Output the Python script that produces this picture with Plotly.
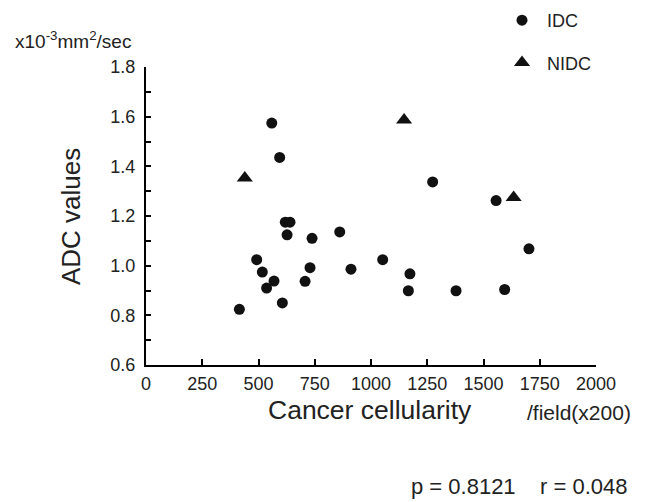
import plotly.graph_objects as go

# IDC data (cancer cellularity /field(x200), ADC x10^-3 mm^2/sec)
idc_x = [559, 594, 619, 640, 627, 738, 861, 492, 517, 569, 536, 415, 606, 707, 729, 911,
         1052, 1274, 1556, 1702, 1173, 1166, 1378, 1594]
idc_y = [1.574, 1.436, 1.175, 1.175, 1.124, 1.110, 1.136, 1.024, 0.974, 0.938, 0.910, 0.824,
         0.850, 0.937, 0.992, 0.986, 1.024, 1.337, 1.262, 1.068, 0.967, 0.899, 0.899, 0.904]

# NIDC data
nidc_x = [439, 1147, 1634]
nidc_y = [1.353, 1.587, 1.275]

x_ticks = [0, 250, 500, 750, 1000, 1250, 1500, 1750, 2000]
y_ticks = [0.6, 0.8, 1.0, 1.2, 1.4, 1.6, 1.8]

FONT = "Liberation Sans, Arial, sans-serif"
INK = "#111111"
TXT = "#222222"

# plot area in pixels
L, T, R, B = 146, 67, 596, 365
W, H = 660, 502
PW, PH = R - L, B - T


def px(x):
    return (x - L) / PW


def py(y):
    return (B - y) / PH


fig = go.Figure()
fig.add_trace(go.Scatter(x=idc_x, y=idc_y, mode="markers", name="\u00a0IDC", legendgroup="a",
                         marker=dict(symbol="circle", size=11, color=INK), cliponaxis=False))
fig.add_trace(go.Scatter(x=nidc_x, y=nidc_y, mode="markers", name="\u00a0NIDC", legendgroup="b",
                         marker=dict(symbol="triangle-up", size=14, color=INK), cliponaxis=False))

fig.update_layout(
    width=W, height=H,
    margin=dict(l=L, r=W - R, t=T, b=H - B, autoexpand=False),
    paper_bgcolor="white", plot_bgcolor="white",
    font=dict(family=FONT, color=TXT),
    showlegend=True,
    legend=dict(x=px(502), y=py(2), xanchor="left", yanchor="top",
                font=dict(size=18, family=FONT, color=TXT),
                tracegroupgap=16, bgcolor="rgba(0,0,0,0)"),
    xaxis=dict(range=[0, 2000], tickvals=x_ticks, ticktext=[str(v) for v in x_ticks],
               showgrid=False, zeroline=False, showline=True, linecolor="black", linewidth=2,
               ticks="inside", ticklen=6, tickwidth=1.5, tickcolor="black",
               ticklabelstandoff=1, automargin=False,
               tickfont=dict(size=18, family=FONT, color=TXT)),
    yaxis=dict(range=[0.6, 1.8], tickvals=y_ticks, ticktext=["%.1f" % v for v in y_ticks],
               showgrid=False, zeroline=False, showline=True, linecolor="black", linewidth=2,
               ticks="inside", ticklen=5, tickwidth=1.5, tickcolor="black",
               ticklabelstandoff=5, automargin=False,
               minor=dict(dtick=0.1, tick0=0.6, ticks="inside", ticklen=5, tickwidth=1.5,
                          tickcolor="black", showgrid=False),
               tickfont=dict(size=18, family=FONT, color=TXT)),
)

ann = [
    dict(text="x10<sup>-3</sup>mm<sup>2</sup>/sec", x=px(13), y=py(40), xanchor="left",
         yanchor="middle", font=dict(size=19)),
    dict(text="ADC values", x=px(71), y=py(217), textangle=-90, xanchor="center",
         yanchor="middle", font=dict(size=26)),
    dict(text="Cancer cellularity", x=px(370), y=py(410), xanchor="center", yanchor="middle",
         font=dict(size=26.5)),
    dict(text="/field(x200)", x=px(633), y=py(412), xanchor="right", yanchor="middle",
         font=dict(size=21)),
    dict(text="p = 0.8121 \u00a0 \u00a0r = 0.048", x=px(630), y=py(486), xanchor="right",
         yanchor="middle", font=dict(size=22)),
]
for a in ann:
    a.update(xref="paper", yref="paper", showarrow=False)
    a["font"].update(family=FONT, color=TXT)
    fig.add_annotation(**a)

fig.write_html("out.html", config={"displayModeBar": False},
               post_script="document.body.style.margin='0';")
